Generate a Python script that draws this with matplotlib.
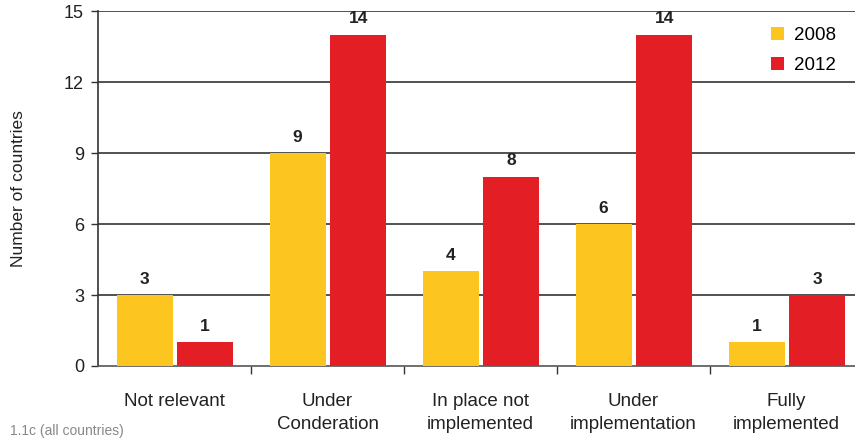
import numpy as np
import matplotlib
matplotlib.use("Agg")
import matplotlib.pyplot as plt

plt.rcParams['font.family'] = ['Liberation Sans', 'DejaVu Sans']

categories = ["Not relevant", "Under\nConderation", "In place not\nimplemented",
              "Under\nimplementation", "Fully\nimplemented"]
years = ["2008", "2012"]
vals_2008 = [3, 9, 4, 6, 1]
vals_2012 = [1, 14, 8, 14, 3]
yticks = [0, 3, 6, 9, 12, 15]

cols = ["#FCC51F", "#E31E24"]

fig = plt.figure(figsize=(8.55, 4.4), dpi=100)
ax = fig.add_axes([98/855, 1-366/440, 765/855, 355/440])

x = np.arange(len(categories))
w = 0.365
b1 = ax.bar(x - 0.195, vals_2008, w, color=cols[0], label=years[0], zorder=3)
b2 = ax.bar(x + 0.2, vals_2012, w, color=cols[1], label=years[1], zorder=3)

for bars, vals in [(b1, vals_2008), (b2, vals_2012)]:
    for r, v in zip(bars, vals):
        ax.text(r.get_x() + r.get_width()/2, v + 0.35, str(v), ha="center", va="bottom",
                fontsize=12.5, fontweight="bold", color="#222222")

ax.set_xlim(-0.5, 4.5)
ax.set_ylim(0, 15)
ax.set_yticks(yticks)
ax.set_yticklabels([str(t) for t in yticks], fontsize=13, color="#222222")
for t in yticks[1:]:
    ax.axhline(t, color="#333333", lw=1.2, zorder=1)

ax.set_xticks(x + 0.5, minor=False)
ax.set_xticklabels([])
ax.tick_params(axis="x", length=6, width=1, color="#333333", direction="out")
ax.tick_params(axis="y", length=5, width=1, color="#333333", direction="out", pad=5)
for i, c in enumerate(categories):
    ax.text(i, -1.12, c, ha="center", va="top", fontsize=13.5, color="#222222",
            linespacing=1.5)

for s in ["top", "right"]:
    ax.spines[s].set_visible(False)
ax.spines["left"].set_color("#333333")
ax.spines["left"].set_linewidth(1.2)
ax.spines["bottom"].set_color("#555555")
ax.spines["bottom"].set_linewidth(1.2)

ax.set_ylabel("Number of countries", fontsize=12.5, color="#222222")
ax.yaxis.set_label_coords(-72/765, 0.5)

leg = ax.legend(loc="upper right", bbox_to_anchor=(836/855, 1-27/440),
                bbox_transform=fig.transFigure, frameon=False,
                fontsize=13.5, handlelength=0.7, handleheight=0.7, handletextpad=0.55,
                labelspacing=0.7, borderaxespad=0.0, borderpad=0.0)

fig.text(10/855, 1-435/440, "1.1c (all countries)", fontsize=10, color="#888888",
         va="baseline")

fig.savefig("out.png", dpi=100)
